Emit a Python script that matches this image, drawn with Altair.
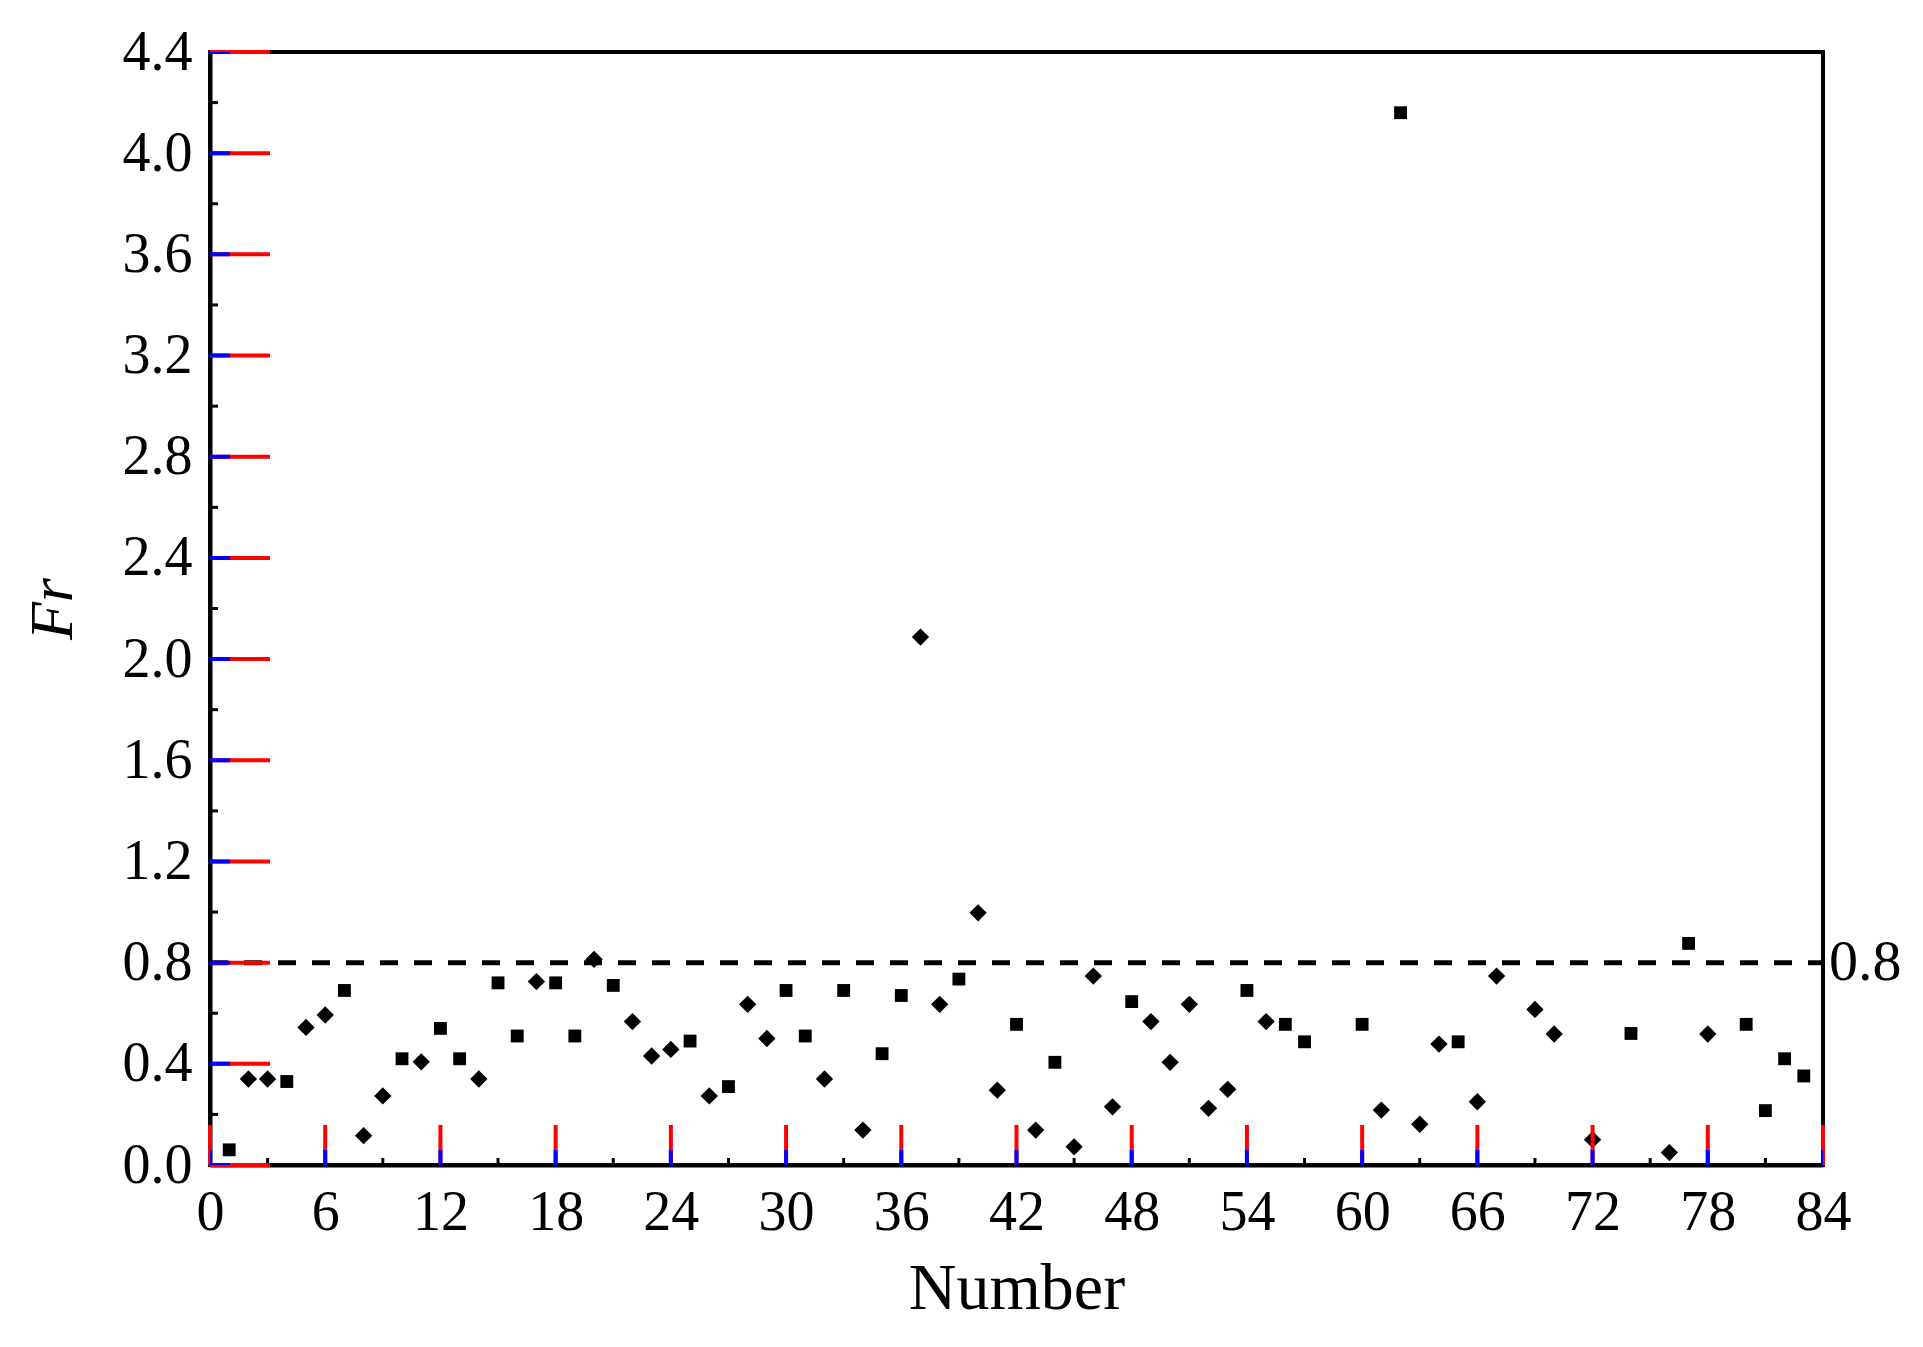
import altair as alt
import pandas as pd

# Square-marker samples
sq_x = [1, 4, 7, 10, 12, 13, 15, 16, 18, 19, 21, 25, 27, 30, 31, 33, 35, 36, 39,
        42, 44, 48, 54, 56, 57, 60, 62, 65, 74, 77, 80, 81, 82, 83]
sq_y = [0.06, 0.33, 0.69, 0.42, 0.54, 0.42, 0.72, 0.51, 0.72, 0.51, 0.71, 0.49,
        0.31, 0.69, 0.51, 0.69, 0.44, 0.67, 0.735, 0.556, 0.406, 0.646, 0.69,
        0.556, 0.487, 0.556, 4.16, 0.487, 0.52, 0.876, 0.556, 0.215, 0.42, 0.352]

# Diamond-marker samples
di_x = [2, 3, 5, 6, 8, 9, 11, 14, 17, 20, 22, 23, 24, 26, 28, 29, 32, 34, 37, 38,
        40, 41, 43, 45, 46, 47, 49, 50, 51, 52, 53, 55, 61, 63, 64, 66, 67, 69,
        70, 72, 76, 78]
di_y = [0.34, 0.34, 0.544, 0.593, 0.116, 0.273, 0.408, 0.34, 0.725, 0.813, 0.567,
        0.431, 0.457, 0.273, 0.635, 0.50, 0.34, 0.138, 2.087, 0.635, 0.997, 0.296,
        0.138, 0.072, 0.747, 0.23, 0.567, 0.406, 0.635, 0.224, 0.299, 0.567,
        0.217, 0.161, 0.478, 0.25, 0.747, 0.615, 0.518, 0.10, 0.049, 0.518]

threshold = 0.8
x_major = [0, 6, 12, 18, 24, 30, 36, 42, 48, 54, 60, 66, 72, 78, 84]
x_minor = [3, 9, 15, 21, 27, 33, 39, 45, 51, 57, 63, 69, 75, 81]
y_major = [0.0, 0.4, 0.8, 1.2, 1.6, 2.0, 2.4, 2.8, 3.2, 3.6, 4.0, 4.4]
y_minor = [0.2, 0.6, 1.0, 1.4, 1.8, 2.2, 2.6, 3.0, 3.4, 3.8, 4.2]

W, H = 1613, 1113
FONT = "Liberation Serif"

xs = alt.Scale(domain=[0, 84], nice=False, zero=False)
ys = alt.Scale(domain=[0, 4.4], nice=False, zero=False)

sq_df = pd.DataFrame({"n": sq_x, "fr": sq_y})
di_df = pd.DataFrame({"n": di_x, "fr": di_y})

x_axis = alt.Axis(values=x_major, tickSize=0, labelPadding=20, grid=False,
                  domainColor="black", domainWidth=4, titlePadding=16,
                  labelFont=FONT, labelFontSize=56, labelColor="black",
                  titleFont=FONT, titleFontSize=66, titleColor="black",
                  titleFontWeight="normal", labelFlush=False)
y_axis = alt.Axis(values=y_major, format=".1f", tickSize=0, labelPadding=18,
                  grid=False, domainColor="black", domainWidth=4,
                  titlePadding=38, labelFont=FONT, labelFontSize=56,
                  labelColor="black", titleFont=FONT, titleFontSize=62,
                  titleColor="black", titleFontWeight="normal",
                  titleFontStyle="italic", labelFlush=False)

squares = alt.Chart(sq_df).mark_point(shape="square", filled=True, size=165,
                                      color="black", opacity=1, strokeWidth=0).encode(
    x=alt.X("n:Q", scale=xs, title="Number", axis=x_axis),
    y=alt.Y("fr:Q", scale=ys, title="Fr", axis=y_axis))
diamonds = alt.Chart(di_df).mark_point(shape="diamond", filled=True, size=300,
                                       color="black", opacity=1, strokeWidth=0).encode(
    x=alt.X("n:Q", scale=xs), y=alt.Y("fr:Q", scale=ys))

thr_df = pd.DataFrame({"x0": [0], "x1": [84], "fr": [threshold], "lab": ["0.8"]})
dash = alt.Chart(thr_df).mark_rule(color="black", strokeWidth=5, strokeDash=[18, 16]).encode(
    x="x0:Q", x2="x1:Q", y="fr:Q")
dash_lab = alt.Chart(thr_df).mark_text(align="left", baseline="middle", dx=6,
                                       font=FONT, fontSize=58, color="black").encode(
    x="x1:Q", y="fr:Q", text="lab:N")

xM = pd.DataFrame({"tx": x_major})
xm = pd.DataFrame({"tx": x_minor})
yM = pd.DataFrame({"ty": y_major})
ym = pd.DataFrame({"ty": y_minor})

# diagnostic colours: rule majors red, tick majors blue
xt_major = alt.Chart(xM).mark_rule(color="red", strokeWidth=4).encode(
    x=alt.X("tx:Q", scale=xs), y=alt.value(H), y2=alt.value(H - 40))
xt_major2 = alt.Chart(xM).mark_tick(color="blue", orient="vertical", thickness=4,
                                    size=30, clip=True, opacity=1).encode(
    x=alt.X("tx:Q", scale=xs), y=alt.value(H))
xt_minor = alt.Chart(xm).mark_rule(color="black", strokeWidth=3).encode(
    x=alt.X("tx:Q", scale=xs), y=alt.value(H), y2=alt.value(H - 7))
yt_major = alt.Chart(yM).mark_rule(color="red", strokeWidth=4).encode(
    y=alt.Y("ty:Q", scale=ys), x=alt.value(0), x2=alt.value(60))
yt_major2 = alt.Chart(yM).mark_tick(color="blue", orient="horizontal", thickness=4,
                                    size=40, clip=True, opacity=1).encode(
    y=alt.Y("ty:Q", scale=ys), x=alt.value(0))
yt_minor = alt.Chart(ym).mark_rule(color="black", strokeWidth=3).encode(
    y=alt.Y("ty:Q", scale=ys), x=alt.value(0), x2=alt.value(8))

chart = alt.layer(
    squares, diamonds, dash, dash_lab, xt_major, xt_major2, xt_minor,
    yt_major, yt_major2, yt_minor
).properties(
    width=W, height=H,
    autosize=alt.AutoSizeParams(type="none"),
    padding={"left": 202, "top": 44, "right": 92, "bottom": 174},
    background="white",
).configure_view(
    stroke="black", strokeWidth=4
)

chart.save("out.html", embed_options={"renderer": "svg", "actions": False})
